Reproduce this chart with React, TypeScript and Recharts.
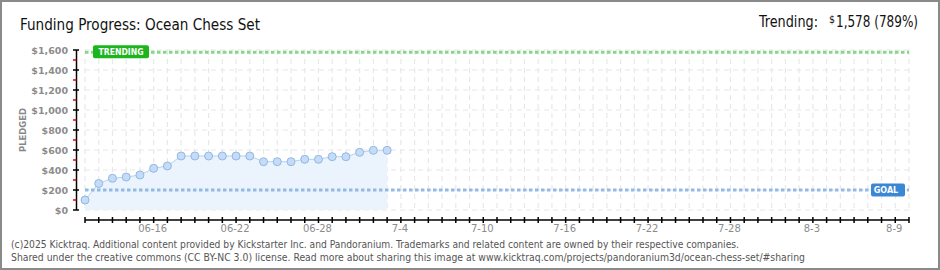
import React from 'react';
import { ComposedChart, Area, XAxis, YAxis, CartesianGrid, ReferenceLine } from 'recharts';

if (typeof document !== 'undefined') {
  document.body.style.margin = '0';
}

// ---- data ----
const days = [0, 1, 2, 3, 4, 5, 6, 7, 8, 9, 10, 11, 12, 13, 14, 15, 16, 17, 18, 19, 20, 21, 22];
const pledged = [100, 265, 317, 330, 350, 417, 440, 540, 540, 540, 540, 540, 540, 483, 483, 483, 507, 507, 533, 533, 577, 597, 597];
const xTickDays = Array.from({ length: 61 }, (_, i) => i);
const xLabelDays = [5, 11, 17, 23, 29, 35, 41, 47, 53, 59];
const xLabels = ['06-16', '06-22', '06-28', '7-4', '7-10', '7-16', '7-22', '7-28', '8-3', '8-9'];
const yTicks = [0, 100, 200, 300, 400, 500, 600, 700, 800, 900, 1000, 1100, 1200, 1300, 1400, 1500, 1600];
const yGridValues = [0, 200, 400, 600, 800, 1000, 1200, 1400, 1600];
const goal = 200;
const trending = 1578;

const data = days.map((d, i) => ({ day: d, pledged: pledged[i] }));

const fmtMoney = (v: number) => '$' + v.toLocaleString('en-US');

const YTick = (props: any) => {
  const { x, y, payload } = props;
  const v = payload.value as number;
  const major = v % 200 === 0;
  const ax = x - 8.5;
  return (
    <g>
      {major ? (
        <line x1={ax - 3.5} x2={ax + 2.5} y1={y} y2={y} stroke="#000" strokeWidth={1.5} />
      ) : (
        <line x1={ax - 3.5} x2={ax} y1={y} y2={y} stroke="#e00000" strokeWidth={1.5} />
      )}
      {major && (
        <text x={ax - 8.5} y={y + 3.5} textAnchor="end" fontFamily="DejaVu Sans, sans-serif" fontSize={9.5} fontWeight="bold" fill="#8c8c8c">
          {fmtMoney(v)}
        </text>
      )}
    </g>
  );
};

const XTick = (props: any) => {
  const { x, y, payload } = props;
  const idx = xLabelDays.indexOf(payload.value);
  return (
    <g>
      <line x1={x} x2={x} y1={y + 7} y2={y + 13} stroke="#000" strokeWidth={1.5} />
      {idx >= 0 && (
        <text x={x - 1} y={y + 22} textAnchor="middle" fontFamily="DejaVu Sans, sans-serif" fontSize={10} fill="#8c8c8c">
          {xLabels[idx]}
        </text>
      )}
    </g>
  );
};

const Dot = (props: any) => {
  const { cx, cy } = props;
  if (cx == null || cy == null) return null;
  return <circle cx={cx} cy={cy} r={4} fill="#c4dcf7" stroke="#93b7e3" strokeWidth={1} />;
};

const TrendLabel = (props: any) => {
  const { x, y } = props.viewBox;
  return (
    <g>
      <rect x={x + 8} y={y - 7} width={56} height={13} rx={2} fill="#1db51d" />
      <text x={x + 36} y={y + 3} textAnchor="middle" fontFamily="DejaVu Sans, sans-serif" fontSize={8} fontWeight="bold" fill="#fff" textLength={45} lengthAdjust="spacingAndGlyphs">
        TRENDING
      </text>
    </g>
  );
};

const GoalLabel = (props: any) => {
  const { x, y, width } = props.viewBox;
  const right = x + width - 4;
  return (
    <g>
      <rect x={right - 34} y={y - 6.5} width={34} height={13} rx={2} fill="#3a87d6" />
      <text x={right - 19} y={y + 3} textAnchor="middle" fontFamily="DejaVu Sans, sans-serif" fontSize={8} fontWeight="bold" fill="#fff">
        GOAL
      </text>
    </g>
  );
};

export default function App() {
  return (
    <div style={{ position: 'relative', width: 940, height: 270, background: '#fff' }}>
      <ComposedChart width={940} height={270} data={data} margin={{ top: 50, right: 31, bottom: 30, left: 25 }}>
        <CartesianGrid
          stroke="#e8e8e8"
          strokeWidth={1.2}
          strokeDasharray="5 4"
          horizontalValues={yGridValues}
          verticalValues={xTickDays}
        />
        <XAxis
          type="number"
          dataKey="day"
          domain={[0, 60]}
          ticks={xTickDays}
          interval={0}
          height={30}
          tickSize={0}
          tickMargin={0}
          tickLine={false}
          axisLine={{ stroke: '#000', strokeWidth: 1.5, transform: 'translate(0,10)' }}
          tick={<XTick />}
        />
        <YAxis
          type="number"
          domain={[0, 1600]}
          ticks={yTicks}
          interval={0}
          width={60}
          tickSize={0}
          tickMargin={0}
          tickLine={false}
          axisLine={{ stroke: '#000', strokeWidth: 1.5, transform: 'translate(-8.5,0)' }}
          tick={<YTick />}
        />
        <Area
          type="linear"
          dataKey="pledged"
          stroke="#b5d2f1"
          strokeWidth={1}
          fill="#ebf3fd"
          fillOpacity={1}
          dot={<Dot />}
          activeDot={false}
          isAnimationActive={false}
        />
        <ReferenceLine y={goal} stroke="#93b9e6" strokeWidth={3} strokeDasharray="3.5 2.5" label={<GoalLabel />} />
        <ReferenceLine y={trending} stroke="#86d886" strokeWidth={3} strokeDasharray="3.5 2.5" label={<TrendLabel />} />
      </ComposedChart>
      <svg width={940} height={270} style={{ position: 'absolute', left: 0, top: 0, pointerEvents: 'none' }}>
        <rect x={1} y={1} width={938} height={268} fill="none" stroke="#8a8a8a" strokeWidth={2} />
        <text x={20} y={30} fontFamily="'Liberation Sans Narrow', 'DejaVu Sans Condensed', 'Liberation Sans', sans-serif" fontSize={16.5} fill="#111" textLength={240} lengthAdjust="spacingAndGlyphs">
          Funding Progress: Ocean Chess Set
        </text>
        <text x={759} y={27.3} fontFamily="'Liberation Sans Narrow', 'DejaVu Sans Condensed', 'Liberation Sans', sans-serif" fontSize={16.5} fill="#111" textLength={59} lengthAdjust="spacingAndGlyphs">
          Trending:
        </text>
        <text x={829} y={23} fontFamily="'Liberation Sans Narrow', 'DejaVu Sans Condensed', 'Liberation Sans', sans-serif" fontSize={10.5} fill="#111" textLength={6} lengthAdjust="spacingAndGlyphs">
          $
        </text>
        <text x={836} y={27.3} fontFamily="'Liberation Sans Narrow', 'DejaVu Sans Condensed', 'Liberation Sans', sans-serif" fontSize={16.5} fill="#111" textLength={82} lengthAdjust="spacingAndGlyphs">
          1,578 (789%)
        </text>
        <text transform="translate(25.5,130) rotate(-90)" textAnchor="middle" fontFamily="DejaVu Sans, sans-serif" fontSize={9} fontWeight="bold" fill="#888" textLength={44} lengthAdjust="spacingAndGlyphs">
          PLEDGED
        </text>
        <text x={11} y={248} fontFamily="'DejaVu Sans Condensed', 'Liberation Sans Narrow', 'DejaVu Sans', sans-serif" fontSize={10} fill="#555" textLength={728} lengthAdjust="spacingAndGlyphs">
          (c)2025 Kicktraq. Additional content provided by Kickstarter Inc. and Pandoranium. Trademarks and related content are owned by their respective companies.
        </text>
        <text x={11} y={260.5} fontFamily="'DejaVu Sans Condensed', 'Liberation Sans Narrow', 'DejaVu Sans', sans-serif" fontSize={10} fill="#555" textLength={794} lengthAdjust="spacingAndGlyphs">
          Shared under the creative commons (CC BY-NC 3.0) license. Read more about sharing this image at www.kicktraq.com/projects/pandoranium3d/ocean-chess-set/#sharing
        </text>
      </svg>
    </div>
  );
}
